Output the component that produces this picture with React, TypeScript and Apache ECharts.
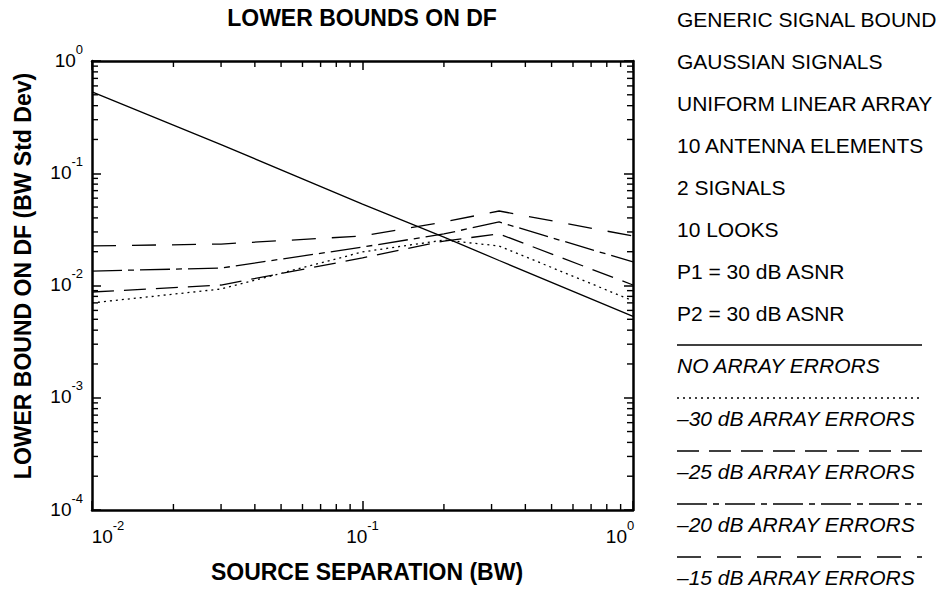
import React, { useEffect, useRef } from 'react';
import * as echarts from 'echarts';

// Source separation (BW) sample points
const SEPARATION = [0.01, 0.03, 0.1, 0.2, 0.32, 1];
// Lower bound on DF (BW std dev) for each array-error level
const NO_ERRORS = [0.53, 0.18, 0.053, 0.027, 0.0167, 0.0053];
const ERR_30DB = [0.007, 0.0093, 0.0199, 0.0254, 0.0225, 0.0073];
const ERR_25DB = [0.00875, 0.0101, 0.0176, 0.0249, 0.0288, 0.0101];
const ERR_20DB = [0.01345, 0.0143, 0.022, 0.0288, 0.0368, 0.0162];
const ERR_15DB = [0.0225, 0.0234, 0.0276, 0.0368, 0.0461, 0.0276];

const SERIES_NAMES = [
  'NO ARRAY ERRORS',
  '–30 dB ARRAY ERRORS',
  '–25 dB ARRAY ERRORS',
  '–20 dB ARRAY ERRORS',
  '–15 dB ARRAY ERRORS',
];
const SERIES_VALUES = [NO_ERRORS, ERR_30DB, ERR_25DB, ERR_20DB, ERR_15DB];

const NOTES = [
  'GENERIC SIGNAL BOUND',
  'GAUSSIAN SIGNALS',
  'UNIFORM LINEAR ARRAY',
  '10 ANTENNA ELEMENTS',
  '2 SIGNALS',
  '10 LOOKS',
  'P1 = 30 dB ASNR',
  'P2 = 30 dB ASNR',
];

const TITLE = 'LOWER BOUNDS ON DF';
const X_TITLE = 'SOURCE SEPARATION (BW)';
const Y_TITLE = 'LOWER BOUND ON DF (BW Std Dev)';

const X_MIN = 0.01;
const X_MAX = 1;
const Y_MIN = 0.0001;
const Y_MAX = 1;
const MINOR_STEPS = [2, 3, 4, 5, 6, 7, 8, 9];
const X_DECADES = [0.01, 0.1];
const Y_DECADES = [0.0001, 0.001, 0.01, 0.1];

const FONT = '"Liberation Sans", Arial, Helvetica, sans-serif';
const DASHES: any[] = ['solid', [2, 4], [22, 10], [30, 6, 6, 6], [24, 16]];

export default function App() {
  const ref = useRef<HTMLDivElement>(null);

  useEffect(() => {
    if (!ref.current) return;
    const chart = echarts.init(ref.current, undefined, { renderer: 'svg' });

    const xMinor: number[][] = [];
    X_DECADES.forEach((d) => MINOR_STEPS.forEach((k) => xMinor.push([k * d, Y_MIN])));
    const yMinor: number[][] = [];
    Y_DECADES.forEach((d) => MINOR_STEPS.forEach((k) => yMinor.push([X_MIN, k * d])));

    const expOf = (v: number) => Math.round(Math.log10(v));
    const yFormatter = (v: number) => `{b|10}{s|${expOf(v)}}`;
    const xFormatter = (v: number) => {
      const e = expOf(v);
      if (e === Math.round(Math.log10(X_MIN))) return `{bl|10}{s|${e}}`;
      if (e === Math.round(Math.log10(X_MAX))) return `{b|10}{sr|${e}}`;
      return `{b|10}{s|${e}}`;
    };
    const mkRich = () => ({
      b: { fontSize: 19, fontFamily: FONT, color: '#000', verticalAlign: 'bottom' },
      bl: { fontSize: 19, fontFamily: FONT, color: '#000', verticalAlign: 'bottom', padding: [0, 0, 0, 32] },
      s: { fontSize: 13, fontFamily: FONT, color: '#000', lineHeight: 27, verticalAlign: 'top' },
      sr: { fontSize: 13, fontFamily: FONT, color: '#000', lineHeight: 27, verticalAlign: 'top', padding: [0, 26, 0, 0] },
    });
    const mkLine = () => ({ show: true, lineStyle: { color: '#000', width: 2.5 } });
    const mkTick = () => ({ show: true, inside: true, length: 9, lineStyle: { color: '#000', width: 1.5 } });

    const lineSeries = SERIES_NAMES.map((name, i) => ({
      name,
      type: 'line',
      data: SEPARATION.map((x, j) => [x, SERIES_VALUES[i][j]]),
      symbol: 'none',
      lineStyle: { color: '#000', width: 1.3, type: DASHES[i] },
    }));

    const graphic: any[] = [
      {
        type: 'text',
        x: 23,
        y: 276,
        rotation: Math.PI / 2,
        style: { text: Y_TITLE, font: `bold 23px ${FONT}`, fill: '#000', align: 'center', verticalAlign: 'middle' },
      },
      {
        type: 'text',
        x: 367,
        y: 572,
        style: { text: X_TITLE, font: `bold 23px ${FONT}`, fill: '#000', align: 'center', verticalAlign: 'middle' },
      },
    ];
    NOTES.forEach((t, i) => {
      graphic.push({
        type: 'text',
        x: 677,
        y: 19 + i * 42.1,
        style: { text: t, font: `21px ${FONT}`, fill: '#000', align: 'left', verticalAlign: 'middle' },
      });
    });
    SERIES_NAMES.forEach((t, i) => {
      const ly = 345 + i * 53;
      const dash = DASHES[i];
      const lineStyle: any = { stroke: '#000', lineWidth: 1.4 };
      if (dash !== 'solid') lineStyle.lineDash = dash;
      graphic.push({ type: 'line', shape: { x1: 677, y1: ly, x2: 922, y2: ly }, style: lineStyle });
      graphic.push({
        type: 'text',
        x: 677,
        y: ly + 20,
        style: { text: t, font: `italic 21px ${FONT}`, fill: '#000', align: 'left', verticalAlign: 'middle' },
      });
    });

    chart.setOption({
      animation: false,
      backgroundColor: '#fff',
      title: {
        text: TITLE,
        left: 357,
        top: 1,
        textAlign: 'center',
        textStyle: { fontSize: 23, fontWeight: 'bold', fontFamily: FONT, color: '#000' },
      },
      grid: { left: 92, top: 61, width: 541, height: 449 },
      xAxis: [
        {
          type: 'log', logBase: 10, min: X_MIN, max: X_MAX, position: 'bottom', z: 10,
          axisLine: mkLine(), axisTick: mkTick(), splitLine: { show: false },
          axisLabel: { margin: 9, formatter: xFormatter, rich: mkRich() },
        },
        {
          type: 'log', logBase: 10, min: X_MIN, max: X_MAX, position: 'top', z: 10,
          axisLine: mkLine(), axisTick: mkTick(), splitLine: { show: false }, axisLabel: { show: false },
        },
      ],
      yAxis: [
        {
          type: 'log', logBase: 10, min: Y_MIN, max: Y_MAX, position: 'left', z: 10,
          axisLine: mkLine(), axisTick: mkTick(), splitLine: { show: false },
          axisLabel: { margin: 9, formatter: yFormatter, rich: mkRich(), padding: [0, 0, 10, 0] },
        },
        {
          type: 'log', logBase: 10, min: Y_MIN, max: Y_MAX, position: 'right', z: 10,
          axisLine: mkLine(), axisTick: mkTick(), splitLine: { show: false }, axisLabel: { show: false },
        },
      ],
      graphic,
      series: [
        ...lineSeries,
        {
          type: 'custom',
          z: 10,
          clip: false,
          data: xMinor,
          renderItem: (params: any, api: any) => {
            const v = api.value(0);
            const b = api.coord([v, Y_MIN]);
            const t = api.coord([v, Y_MAX]);
            return {
              type: 'group',
              children: [
                { type: 'line', shape: { x1: b[0], y1: b[1], x2: b[0], y2: b[1] - 6 }, style: { stroke: '#000', lineWidth: 1.4 } },
                { type: 'line', shape: { x1: t[0], y1: t[1], x2: t[0], y2: t[1] + 6 }, style: { stroke: '#000', lineWidth: 1.4 } },
              ],
            };
          },
        },
        {
          type: 'custom',
          z: 10,
          clip: false,
          data: yMinor,
          renderItem: (params: any, api: any) => {
            const v = api.value(1);
            const l = api.coord([X_MIN, v]);
            const r = api.coord([X_MAX, v]);
            return {
              type: 'group',
              children: [
                { type: 'line', shape: { x1: l[0], y1: l[1], x2: l[0] + 6, y2: l[1] }, style: { stroke: '#000', lineWidth: 1.4 } },
                { type: 'line', shape: { x1: r[0], y1: r[1], x2: r[0] - 6, y2: r[1] }, style: { stroke: '#000', lineWidth: 1.4 } },
              ],
            };
          },
        },
      ],
    });

    return () => chart.dispose();
  }, []);

  return (
    <div
      ref={ref}
      style={{ position: 'absolute', left: 0, top: 0, width: 941, height: 590, background: '#fff' }}
    />
  );
}
